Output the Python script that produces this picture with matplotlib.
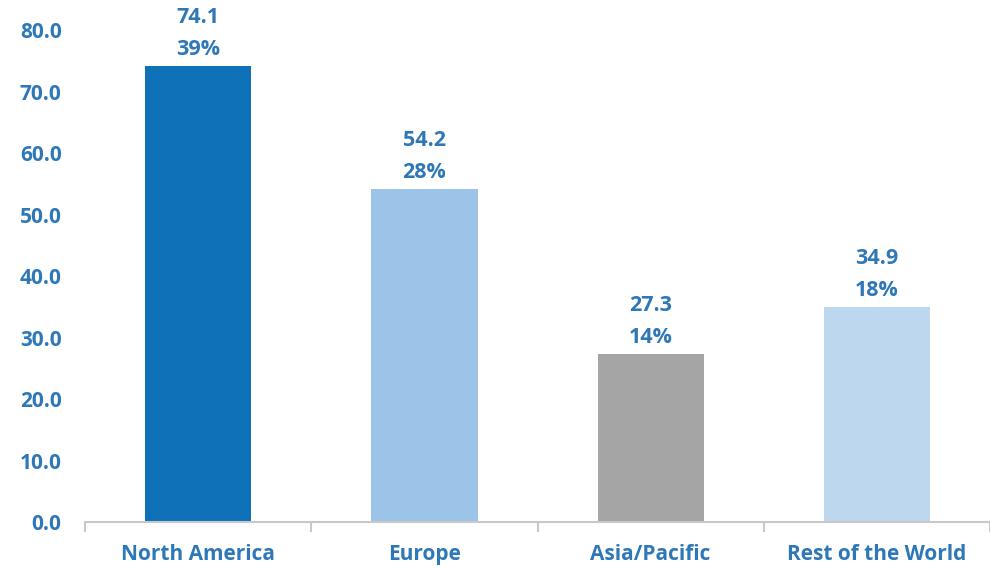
import matplotlib.pyplot as plt

# data
regions = ["North America", "Europe", "Asia/Pacific", "Rest of the World"]
values = [74.1, 54.2, 27.3, 34.9]
shares = ["39%", "28%", "14%", "18%"]
colors = ["#0F71B8", "#9BC4E8", "#A5A5A5", "#BDD7EE"]

label_blue = "#2E78B7"
plt.rcParams['font.family'] = ['Open Sans', 'DejaVu Sans']

fig = plt.figure(figsize=(9.9, 5.7), dpi=100)
ax = fig.add_axes([0.086, 0.0842, 0.914, 0.863])

x = list(range(len(regions)))
bars = ax.bar(x, values, width=0.47, color=colors)

# value and share labels over each bar
for xi, v, s in zip(x, values, shares):
    ax.annotate(f"{v:.1f}", (xi, v), xytext=(0, 35), textcoords="offset points",
                ha="center", va="center", fontsize=15.5, fontweight="bold",
                color=label_blue, annotation_clip=False)
    ax.annotate(s, (xi, v), xytext=(0, 12), textcoords="offset points",
                ha="center", va="center", fontsize=15.5, fontweight="bold",
                color=label_blue, annotation_clip=False)

ax.set_xlim(-0.5, 3.47)
ax.set_ylim(0, 80)
ax.set_yticks(range(0, 81, 10))
ax.set_yticklabels([f"{t:.1f}" for t in range(0, 81, 10)])

ax.set_xticks(x)
ax.set_xticklabels(regions)
ax.set_xticks([-0.5, 0.5, 1.5, 2.5, 3.5], minor=True)

for sp in ["top", "right", "left"]:
    ax.spines[sp].set_visible(False)
ax.spines["bottom"].set_color("#C8C8C8")
ax.spines["bottom"].set_linewidth(1.5)

ax.tick_params(axis="y", length=0, pad=17, labelsize=15, labelcolor=label_blue)
ax.tick_params(axis="x", which="major", length=0, pad=16, labelsize=15, labelcolor=label_blue)
ax.tick_params(axis="x", which="minor", length=7, width=1.5, color="#C8C8C8")
for lbl in ax.get_xticklabels() + ax.get_yticklabels():
    lbl.set_fontweight("bold")

fig.savefig("out.png", dpi=100)
